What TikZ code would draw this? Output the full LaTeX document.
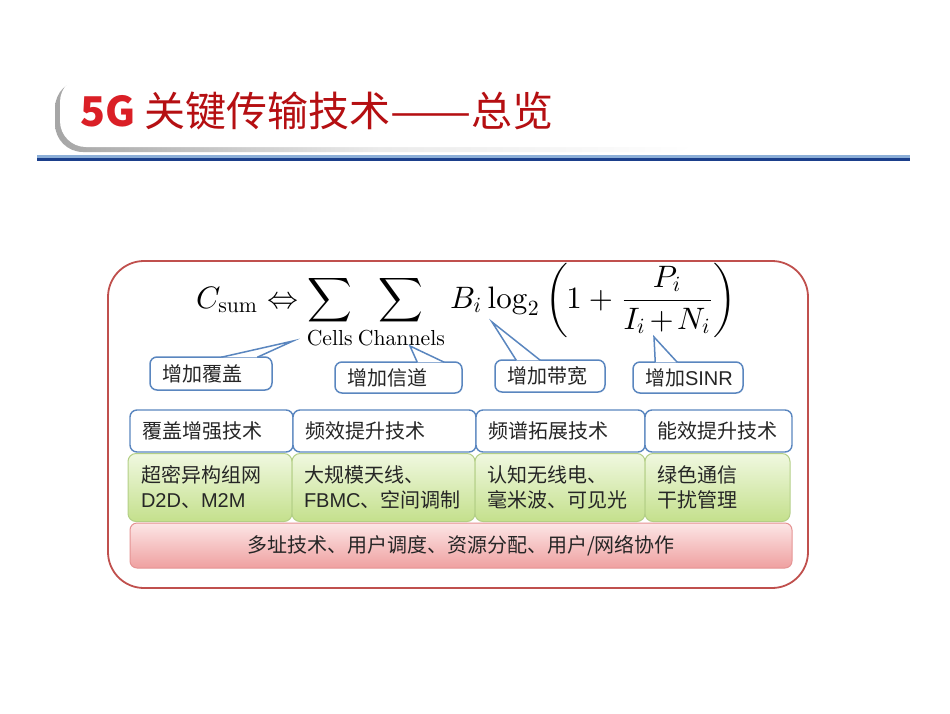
\documentclass[tikz,border=0pt]{standalone}
\usepackage[no-math]{fontspec}
\usepackage{graphicx}
\newfontfamily\cjk{Noto Sans CJK SC}
\newfontfamily\lat{Liberation Sans}
\usetikzlibrary{calc}
\newcommand\sbx[1]{\scalebox{0.7}{$#1$}}
\newcommand\sbt[1]{\scalebox{0.7}{#1}}
\definecolor{titlered}{HTML}{B50F12}
\definecolor{titlered2}{HTML}{DA1F26}
\definecolor{bluebar}{HTML}{1B3F8B}
\definecolor{bluebarlight}{HTML}{8CAFD8}
\definecolor{outerred}{HTML}{C0504D}
\definecolor{boxblue}{HTML}{5A86BF}
\definecolor{greenfillt}{HTML}{F0F8E0}
\definecolor{greenfillb}{HTML}{C4E08C}
\definecolor{greenedge}{HTML}{B3CF86}
\definecolor{pinkt}{HTML}{FCE6E6}
\definecolor{pinkb}{HTML}{EFA0A0}
\definecolor{pinkedge}{HTML}{E59393}
\definecolor{txt}{HTML}{262626}
\begin{document}
\begin{tikzpicture}[x=1pt,y=-1pt,
  bodyfont/.style={font=\cjk\fontsize{20}{25}\selectfont, text=txt},
  callout/.style={bodyfont, draw=boxblue, line width=1.5pt, fill=white,
    rounded corners=7pt, inner xsep=12pt, inner ysep=0pt, align=left},
  wedge/.style={fill=white, draw=boxblue, line width=1.5pt, line join=miter},
  techbox/.style={bodyfont, draw=boxblue, line width=1.4pt, fill=white,
    rounded corners=7pt, inner xsep=12pt, inner ysep=0pt, align=left,
    minimum height=42pt},
  greenbox/.style={bodyfont, draw=greenedge, line width=1pt,
    top color=greenfillt, bottom color=greenfillb,
    rounded corners=8pt, inner xsep=12pt, inner ysep=0pt, align=left,
    minimum height=68pt},
  pinkbox/.style={bodyfont, draw=pinkedge, line width=1pt,
    top color=pinkt, bottom color=pinkb,
    rounded corners=7pt, inner sep=0pt, minimum height=45pt, minimum width=662pt}
]
\useasboundingbox (0,0) rectangle (950,713);
\fill[white] (0,0) rectangle (950,713);

% title tab
\shade[left color=black!35, right color=white, middle color=black!8, rounded corners=28pt]
  (55,80) rectangle (700,152);
\fill[white, rounded corners=26pt] (60,76) rectangle (740,147);
\node[anchor=base west, inner sep=0pt] (title) at (80,126)
  {\fontsize{41}{41}\selectfont\cjk{\bfseries\color{titlered2}5G} \color{titlered}关键传输技术\scalebox{1.18}[1]{——}总览};

% blue rule
\fill[bluebarlight] (37,155) rectangle (910,157.5);
\fill[bluebar] (37,157.5) rectangle (910,161);

% outer frame
\node[draw=outerred, line width=1.8pt, fill=white, rounded corners=36pt,
  minimum width=700pt, minimum height=327pt, inner sep=0pt] (frame) at (458,424.5) {};

% formula
\node[anchor=base west, inner sep=0pt] (formula) at (196,308)
  {\scalebox{3.1}{$\displaystyle C_{\sbx{\mathrm{sum}}}\Leftrightarrow\sum_{\sbt{Cells}}\sum_{\sbt{Channels}}B_{\sbx{i}}\log_{\sbx{2}}\left(\mskip-1mu 1+\frac{P_{\sbx{i}}}{I_{\sbx{i}}\mskip-2mu+\mskip-2mu N_{\sbx{i}}}\mskip-1mu\right)$}};

% callouts
\node[callout, minimum width=122pt, minimum height=33pt, text width=98pt] (c1) at (211,373.5) {增加覆盖};
\node[callout, minimum width=127pt, minimum height=31pt, text width=103pt] (c2) at (398.5,377.5) {增加信道};
\node[callout, minimum width=110pt, minimum height=32pt, text width=86pt] (c3) at (550,376) {增加带宽};
\node[callout, minimum width=110pt, minimum height=31pt, text width=86pt] (c4) at (688,377.5) {增加{\lat SINR}};
\coordinate (t1) at (293,341);
\coordinate (t2) at (410,346);
\coordinate (t3) at (492,322);
\coordinate (t4) at (654,337);
\filldraw[wedge] ($(c1.north west)+(72,1)$) -- (t1) -- ($(c1.north west)+(108,1)$);
\filldraw[wedge] ($(c2.north west)+(83,1)$) -- (t2) -- ($(c2.north west)+(110,1)$);
\filldraw[wedge] ($(c3.north west)+(22,1)$) -- (t3) -- ($(c3.north west)+(46,1)$);
\filldraw[wedge] ($(c4.north west)+(23,1)$) -- (t4) -- ($(c4.north west)+(45,1)$);

% technology row
\node[techbox, minimum width=163pt, text width=139pt] (b1) at (211.5,431) {覆盖增强技术};
\node[techbox, minimum width=183pt, text width=159pt] (b2) at (384.5,431) {频效提升技术};
\node[techbox, minimum width=169pt, text width=145pt] (b3) at (560.5,431) {频谱拓展技术};
\node[techbox, minimum width=147pt, text width=123pt] (b4) at (718.5,431) {能效提升技术};

% green row
\node[greenbox, minimum width=164pt, text width=138pt] (g1) at (210,487.5) {超密异构组网\\{\lat D2D}、{\lat M2M}};
\node[greenbox, minimum width=183pt, text width=159pt] (g2) at (383.5,487.5) {大规模天线、\\{\lat FBMC}、空间调制};
\node[greenbox, minimum width=170pt, text width=146pt] (g3) at (560,487.5) {认知无线电、\\毫米波、可见光};
\node[greenbox, minimum width=145pt, text width=121pt] (g4) at (717.5,487.5) {绿色通信\\干扰管理};

% pink bar
\node[pinkbox] (p1) at (461,545.5) {多址技术、用户调度、资源分配、用户/网络协作};
\end{tikzpicture}
\end{document}
